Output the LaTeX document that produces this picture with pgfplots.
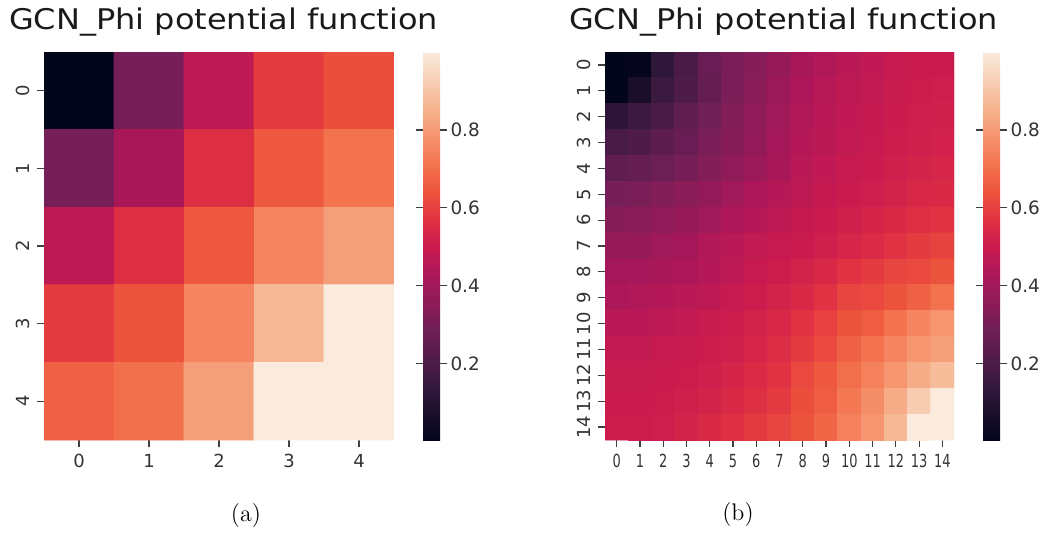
\documentclass[border=0pt]{standalone}
\usepackage{pgfplots}
\pgfplotsset{compat=1.18}
\usepackage{fontspec}
\newfontfamily\dejavu{DejaVu Sans}

\pgfplotsset{
  colormap={rocket}{rgb255(0cm)=(3,5,26) rgb255(1cm)=(53,25,62) rgb255(2cm)=(112,31,87)
    rgb255(3cm)=(173,23,89) rgb255(3.5cm)=(203,27,79) rgb255(4cm)=(225,51,66)
    rgb255(4.5cm)=(237,85,60) rgb255(5cm)=(243,118,81) rgb255(6cm)=(246,180,143)
    rgb255(7cm)=(250,235,221)},
  heat/.style={
    scale only axis, height=194pt,
    y dir=reverse, enlargelimits=false,
    tick align=outside, xtick pos=left, ytick pos=left,
    major tick length=3.5pt,
    axis line style={draw=none},
    tick style={draw=black!75, line width=0.6pt},
    ticklabel style={font=\dejavu\fontsize{9}{10}\selectfont, text=black!80},
    yticklabel style={rotate=90, anchor=south},
    colormap name=rocket,
    point meta min=0.004, point meta max=1.0,
    colorbar,
    colorbar style={
      at={(parent axis.north east)}, anchor=north west, xshift=6pt,
      scale only axis, width=8.5pt, height=194pt,
      ytick={0.2,0.4,0.6,0.8}, yticklabels={0.2,0.4,0.6,0.8},
      tick align=outside, major tick length=3.5pt,
      axis line style={draw=none},
      tick style={draw=black!75, line width=0.6pt},
      yticklabel style={font=\dejavu\fontsize{9.2}{11}\selectfont, text=black!80, xshift=-1.8pt},
    },
  },
}

\begin{document}
\begin{tikzpicture}
\path[use as bounding box] (0,0) rectangle (521pt,-268pt);

% (a) 5 x 5
\begin{axis}[heat, at={(22pt,-220pt)}, anchor=south west, width=175pt,
  xmin=-0.5, xmax=4.5, ymin=-0.5, ymax=4.5,
  xtick={0,1,2,3,4}, xticklabels={0,1,2,3,4},
  ytick={0,1,2,3,4}, yticklabels={0,1,2,3,4}]
\addplot[matrix plot*, mesh/cols=5, point meta=explicit] coordinates {
(0,0) [0.004] (1,0) [0.30] (2,0) [0.47] (3,0) [0.59] (4,0) [0.63]
(0,1) [0.30] (1,1) [0.42] (2,1) [0.56] (3,1) [0.65] (4,1) [0.71]
(0,2) [0.47] (1,2) [0.56] (2,2) [0.65] (3,2) [0.75] (4,2) [0.81]
(0,3) [0.59] (1,3) [0.64] (2,3) [0.75] (3,3) [0.87] (4,3) [1.00]
(0,4) [0.67] (1,4) [0.70] (2,4) [0.81] (3,4) [1.00] (4,4) [1.00]
};
\end{axis}

% (b) 15 x 15
\begin{axis}[heat, at={(302.5pt,-220pt)}, anchor=south west, width=174.5pt,
  xmin=-0.5, xmax=14.5, ymin=-0.5, ymax=14.5,
  xtick={0,...,14}, xticklabels={0,1,2,3,4,5,6,7,8,9,10,11,12,13,14},
  ytick={0,...,14}, yticklabels={0,1,2,3,4,5,6,7,8,9,10,11,12,13,14},
  xticklabel style={xscale=0.72}]
\addplot[matrix plot*, mesh/cols=15, point meta=explicit] coordinates {
(0,0) [0.004] (1,0) [0.01] (2,0) [0.13] (3,0) [0.20] (4,0) [0.27] (5,0) [0.31] (6,0) [0.34] (7,0) [0.38] (8,0) [0.42] (9,0) [0.44] (10,0) [0.46] (11,0) [0.475] (12,0) [0.49] (13,0) [0.50] (14,0) [0.50]
(0,1) [0.004] (1,1) [0.07] (2,1) [0.16] (3,1) [0.21] (4,1) [0.26] (5,1) [0.31] (6,1) [0.35] (7,1) [0.39] (8,1) [0.43] (9,1) [0.455] (10,1) [0.47] (11,1) [0.48] (12,1) [0.495] (13,1) [0.505] (14,1) [0.51]
(0,2) [0.12] (1,2) [0.16] (2,2) [0.20] (3,2) [0.25] (4,2) [0.29] (5,2) [0.33] (6,2) [0.36] (7,2) [0.40] (8,2) [0.44] (9,2) [0.46] (10,2) [0.475] (11,2) [0.485] (12,2) [0.50] (13,2) [0.51] (14,2) [0.515]
(0,3) [0.19] (1,3) [0.21] (2,3) [0.24] (3,3) [0.27] (4,3) [0.31] (5,3) [0.34] (6,3) [0.37] (7,3) [0.41] (8,3) [0.45] (9,3) [0.465] (10,3) [0.48] (11,3) [0.49] (12,3) [0.505] (13,3) [0.515] (14,3) [0.52]
(0,4) [0.25] (1,4) [0.26] (2,4) [0.28] (3,4) [0.30] (4,4) [0.33] (5,4) [0.36] (6,4) [0.39] (7,4) [0.42] (8,4) [0.46] (9,4) [0.475] (10,4) [0.49] (11,4) [0.50] (12,4) [0.515] (13,4) [0.525] (14,4) [0.535]
(0,5) [0.30] (1,5) [0.31] (2,5) [0.33] (3,5) [0.35] (4,5) [0.37] (5,5) [0.40] (6,5) [0.43] (7,5) [0.45] (8,5) [0.47] (9,5) [0.485] (10,5) [0.50] (11,5) [0.51] (12,5) [0.525] (13,5) [0.54] (14,5) [0.545]
(0,6) [0.34] (1,6) [0.35] (2,6) [0.36] (3,6) [0.38] (4,6) [0.40] (5,6) [0.43] (6,6) [0.45] (7,6) [0.47] (8,6) [0.485] (9,6) [0.50] (10,6) [0.515] (11,6) [0.53] (12,6) [0.545] (13,6) [0.56] (14,6) [0.57]
(0,7) [0.38] (1,7) [0.38] (2,7) [0.40] (3,7) [0.41] (4,7) [0.44] (5,7) [0.46] (6,7) [0.48] (7,7) [0.49] (8,7) [0.50] (9,7) [0.515] (10,7) [0.535] (11,7) [0.55] (12,7) [0.57] (13,7) [0.59] (14,7) [0.605]
(0,8) [0.41] (1,8) [0.415] (2,8) [0.42] (3,8) [0.43] (4,8) [0.45] (5,8) [0.47] (6,8) [0.49] (7,8) [0.505] (8,8) [0.525] (9,8) [0.54] (10,8) [0.57] (11,8) [0.59] (12,8) [0.61] (13,8) [0.62] (14,8) [0.64]
(0,9) [0.43] (1,9) [0.44] (2,9) [0.45] (3,9) [0.46] (4,9) [0.47] (5,9) [0.49] (6,9) [0.505] (7,9) [0.525] (8,9) [0.545] (9,9) [0.57] (10,9) [0.61] (11,9) [0.62] (12,9) [0.64] (13,9) [0.67] (14,9) [0.71]
(0,10) [0.46] (1,10) [0.46] (2,10) [0.47] (3,10) [0.48] (4,10) [0.495] (5,10) [0.505] (6,10) [0.525] (7,10) [0.54] (8,10) [0.57] (9,10) [0.60] (10,10) [0.64] (11,10) [0.66] (12,10) [0.71] (13,10) [0.75] (14,10) [0.79]
(0,11) [0.48] (1,11) [0.48] (2,11) [0.49] (3,11) [0.495] (4,11) [0.505] (5,11) [0.515] (6,11) [0.535] (7,11) [0.555] (8,11) [0.59] (9,11) [0.62] (10,11) [0.67] (11,11) [0.71] (12,11) [0.75] (13,11) [0.79] (14,11) [0.81]
(0,12) [0.495] (1,12) [0.495] (2,12) [0.50] (3,12) [0.505] (4,12) [0.515] (5,12) [0.53] (6,12) [0.55] (7,12) [0.57] (8,12) [0.62] (9,12) [0.65] (10,12) [0.70] (11,12) [0.74] (12,12) [0.79] (13,12) [0.84] (14,12) [0.88]
(0,13) [0.50] (1,13) [0.50] (2,13) [0.505] (3,13) [0.515] (4,13) [0.525] (5,13) [0.545] (6,13) [0.565] (7,13) [0.585] (8,13) [0.63] (9,13) [0.66] (10,13) [0.72] (11,13) [0.77] (12,13) [0.84] (13,13) [0.92] (14,13) [1.00]
(0,14) [0.505] (1,14) [0.505] (2,14) [0.51] (3,14) [0.525] (4,14) [0.545] (5,14) [0.565] (6,14) [0.585] (7,14) [0.61] (8,14) [0.64] (9,14) [0.68] (10,14) [0.74] (11,14) [0.79] (12,14) [0.87] (13,14) [1.00] (14,14) [1.00]
};
\end{axis}

\node[font=\dejavu\fontsize{16}{19}\selectfont, anchor=base, yscale=0.89, text=black!90]
  at (111.75pt,-14.65pt) {GCN\_Phi potential function};
\node[font=\dejavu\fontsize{16}{19}\selectfont, anchor=base, yscale=0.89, text=black!90]
  at (391.75pt,-14.65pt) {GCN\_Phi potential function};
\node[font=\fontsize{12}{14}\selectfont] at (123pt,-257.5pt) {(a)};
\node[font=\fontsize{12}{14}\selectfont] at (369pt,-257pt) {(b)};
\end{tikzpicture}
\end{document}
